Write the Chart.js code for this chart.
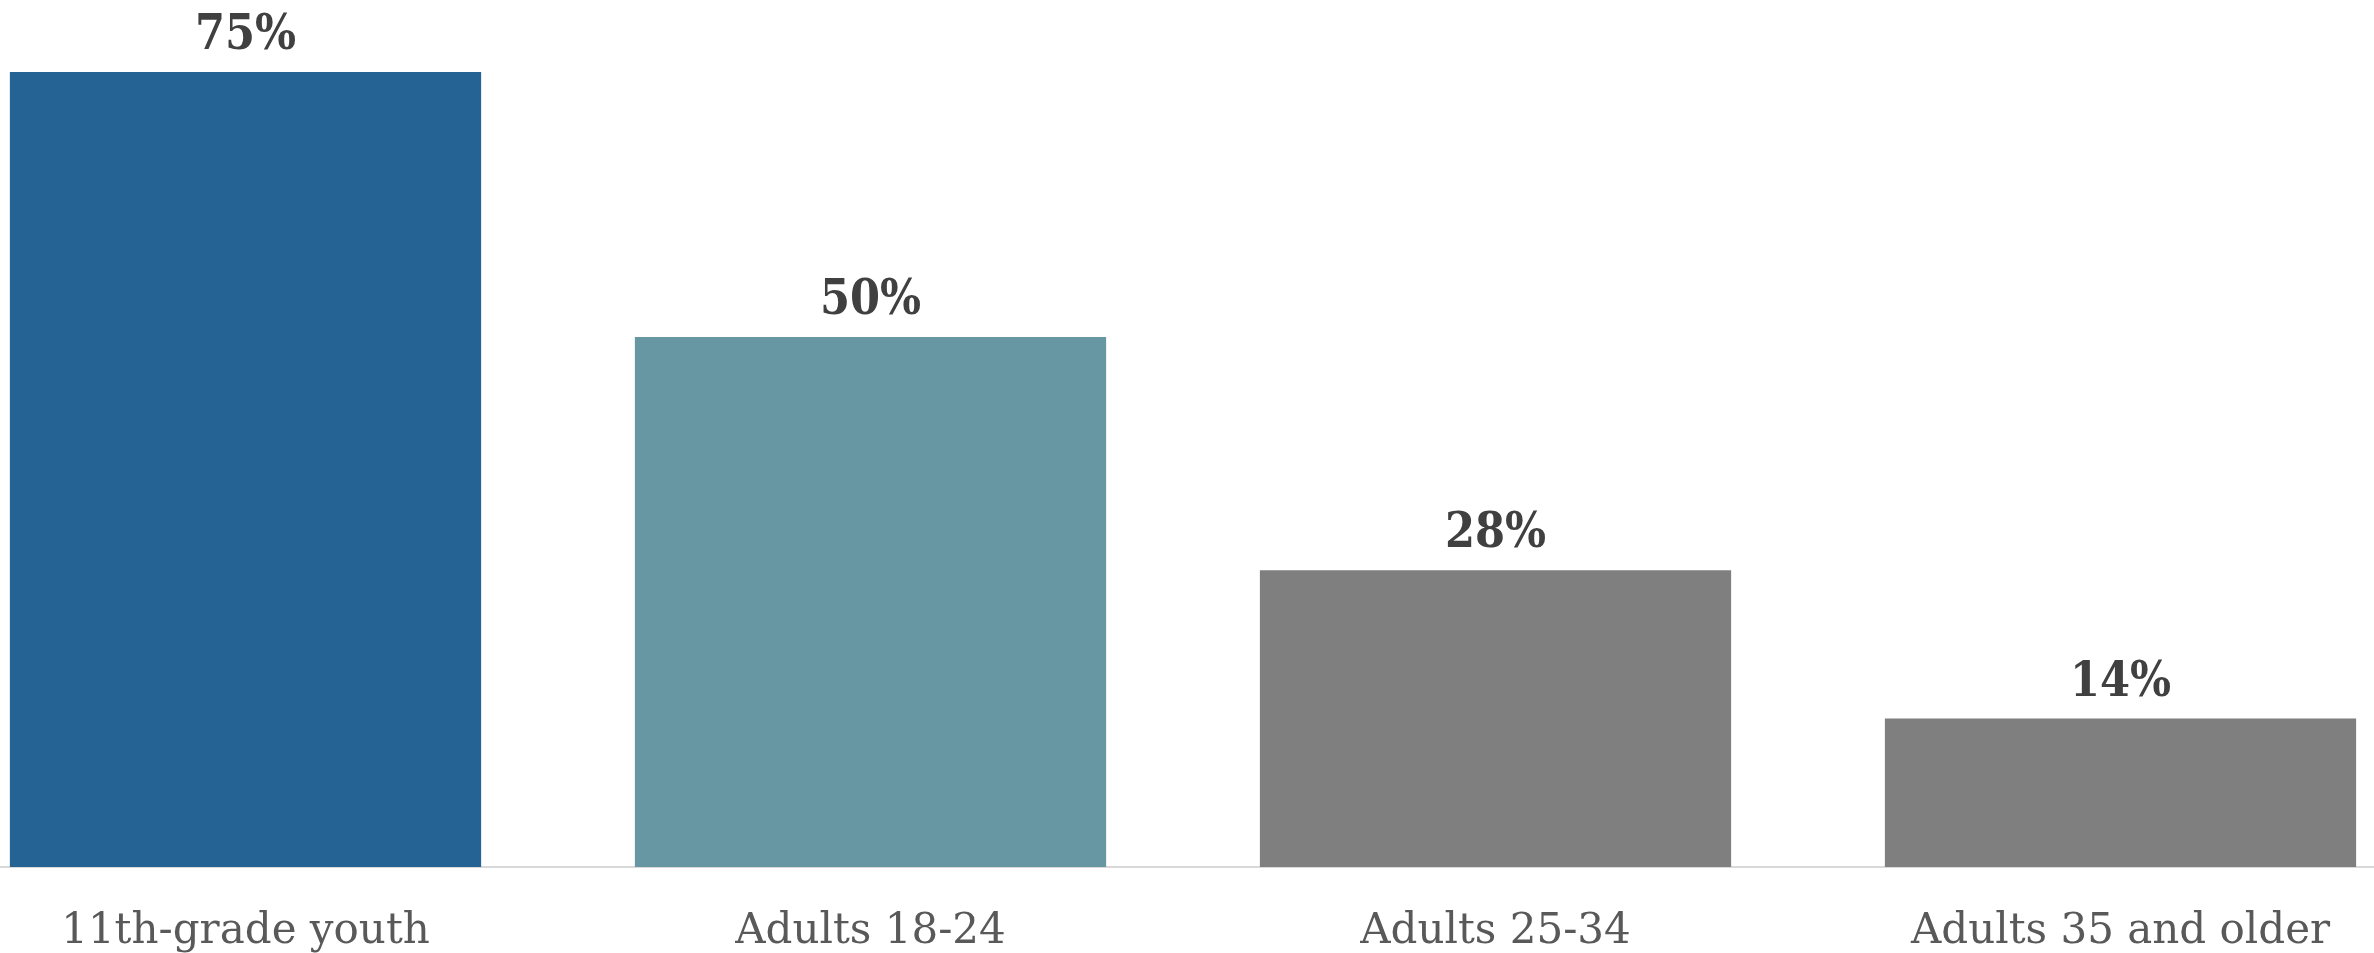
<!DOCTYPE html>
<html>
<head>
<meta charset="utf-8">
<script src="https://cdn.jsdelivr.net/npm/chart.js@4.4.0/dist/chart.umd.min.js"></script>
<style>
  html, body { margin: 0; padding: 0; background: #ffffff; overflow: hidden; }
  #chart-wrap { width: 2374px; height: 953px; overflow: hidden; position: relative; }
  /* canvas is a bit wider than the page so the outer bars reach the edges */
  #bar-chart { position: absolute; left: -67px; top: 0; }
</style>
</head>
<body>
<div id="chart-wrap"><canvas id="bar-chart" width="2500" height="953"></canvas></div>
<script>
// DATA
var labels = ["11th-grade youth", "Adults 18-24", "Adults 25-34", "Adults 35 and older"];
var values = [75, 50, 28, 14];
var barColors = ["#256394", "#6797a3", "#7f7f7f", "#7f7f7f"];

var serif = "'DejaVu Serif', serif";
var serifBold = "'DejaVu Serif Condensed', 'DejaVu Serif', serif";

// value labels above bars
var valueLabels = {
  id: "valueLabels",
  afterDatasetsDraw: function (chart) {
    var ctx = chart.ctx;
    var meta = chart.getDatasetMeta(0);
    ctx.save();
    ctx.font = "bold 48px " + serifBold;
    ctx.fillStyle = "#404040";
    ctx.textAlign = "center";
    ctx.textBaseline = "alphabetic";
    meta.data.forEach(function (bar, i) {
      ctx.fillText(values[i] + "%", bar.x, bar.y - 23);
    });
    ctx.restore();
  }
};

var ctx = document.getElementById("bar-chart").getContext("2d");
var myBarChart = new Chart(ctx, {
  type: "bar",
  data: {
    labels: labels,
    datasets: [
      {
        data: values,
        backgroundColor: barColors,
        borderWidth: 0,
        categoryPercentage: 1.0,
        barPercentage: 0.754,
      },
    ],
  },
  options: {
    responsive: false,
    animation: false,
    layout: {
      padding: { left: 0, right: 0, top: 19, bottom: 0 },
    },
    plugins: {
      legend: { display: false },
      title: { display: false },
      tooltip: { enabled: false },
    },
    scales: {
      x: {
        grid: { display: false, drawTicks: false },
        border: { display: true, color: "#d9d9d9", width: 2 },
        ticks: {
          color: "#595959",
          padding: 40,
          font: { family: serif, size: 42 },
        },
        afterFit: function (scale) {
          scale.height = 86;
        },
      },
      y: {
        display: false,
        min: 0,
        max: 80,
      },
    },
  },
  plugins: [valueLabels],
});
</script>
</body>
</html>
